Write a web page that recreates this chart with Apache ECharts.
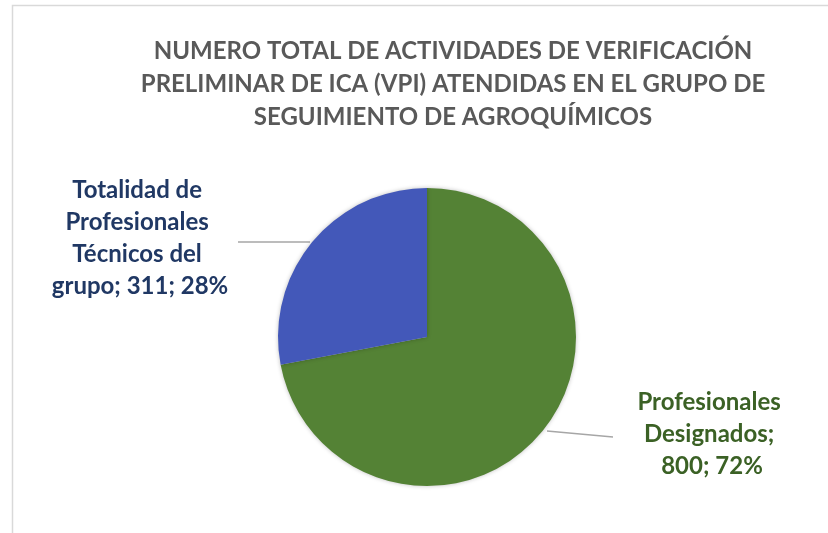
<!DOCTYPE html>
<html>
<head>
<meta charset="utf-8">
<script src="https://cdn.jsdelivr.net/npm/echarts@6/dist/echarts.min.js"></script>
<style>
  html, body { margin: 0; padding: 0; background: #fff; }
  #chart { width: 828px; height: 533px; }
</style>
</head>
<body>
<div id="chart"></div>
<script>
  // datos
  let titleText = 'NUMERO TOTAL DE ACTIVIDADES DE VERIFICACIÓN\nPRELIMINAR DE ICA (VPI) ATENDIDAS EN EL GRUPO DE\nSEGUIMIENTO DE AGROQUÍMICOS';
  let categories = ['Profesionales Designados', 'Totalidad de Profesionales Técnicos del grupo'];
  let values = [800, 311];
  let colors = ['#548235', '#4358B9'];
  let labelColors = ['#3B6125', '#203864'];

  let chart = echarts.init(document.getElementById('chart'));
  let font = 'Lato, "Open Sans", sans-serif';

  // posicion de las etiquetas (centro del texto) y lineas guia
  let labelPos = [
    {x: 712, y: 434, line: [[547, 431], [613, 437]]},
    {x: 140, y: 238, line: [[310, 242], [238, 242]]}
  ];

  let data = [];
  for (let i = 0; i < values.length; i++) {
    data.push({
      name: categories[i],
      value: values[i],
      itemStyle: {color: colors[i]},
      label: {color: labelColors[i], width: i == 0 ? 165 : 190}
    });
  }

  let option = {
    backgroundColor: '#fff',
    animation: false,
    graphic: [{
      type: 'rect',
      shape: {x: 12.5, y: 5.5, width: 830, height: 540},
      style: {fill: 'none', stroke: '#d9d9d9', lineWidth: 1.5},
      silent: true
    }],
    title: {
      text: titleText,
      left: 448,
      top: 30,
      textAlign: 'center',
      textStyle: {
        fontFamily: font,
        fontSize: 24,
        fontWeight: 'bold',
        color: '#595959',
        lineHeight: 33
      }
    },
    series: [{
      type: 'pie',
      center: [427, 337],
      radius: 149,
      startAngle: 90,
      clockwise: true,
      data: data,
      itemStyle: {
        shadowBlur: 4,
        shadowColor: 'rgba(0,0,0,0.25)'
      },
      label: {
        show: true,
        position: 'outside',
        formatter: function (p) {
          return p.name + '; ' + p.value + '; ' + Math.round(p.percent) + '%';
        },
        fontFamily: font,
        fontSize: 24,
        fontWeight: 'bold',
        lineHeight: 32,
        overflow: 'break',
        align: 'center'
      },
      labelLine: {
        show: true,
        lineStyle: {color: '#a6a6a6', width: 1.5}
      },
      labelLayout: function (params) {
        let p = labelPos[params.dataIndex];
        return {
          x: p.x,
          y: p.y,
          align: 'center',
          verticalAlign: 'middle',
          labelLinePoints: [p.line[0], p.line[1], p.line[1]]
        };
      },
      emphasis: {disabled: true}
    }]
  };
  chart.setOption(option);
</script>
</body>
</html>
